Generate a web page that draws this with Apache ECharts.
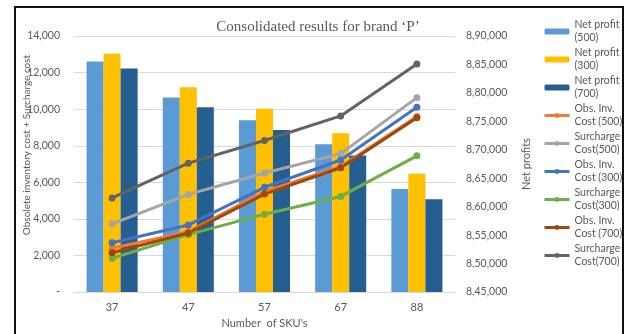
<!DOCTYPE html>
<html>
<head>
<meta charset="utf-8">
<script src="https://cdn.jsdelivr.net/npm/echarts@6/dist/echarts.min.js"></script>
<style>
  html, body { margin: 0; padding: 0; background: #fff; }
  #chart { width: 625px; height: 334px; }
  #frame { position: absolute; left: 14px; top: 6px; width: 606px; height: 340px; border: 2px solid #111; pointer-events: none; }
</style>
</head>
<body>
<div id="chart"></div>
<div id="frame"></div>
<script>
// Number of SKUs on the x axis
const skuCounts = ['37', '47', '57', '67', '88'];

// Net profit (right axis) per capacity scenario
const netProfit500 = [885500, 879200, 875200, 871000, 863100];
const netProfit300 = [886900, 881000, 877200, 872900, 865800];
const netProfit700 = [884300, 877500, 873500, 869000, 861300];

// Obsolete inventory and surcharge costs (left axis)
const obsInv500 = [2400, 3300, 5500, 6870, 9600];
const surcharge500 = [3730, 5340, 6510, 7570, 10630];
const obsInv300 = [2700, 3670, 5730, 7220, 10100];
const surcharge300 = [1850, 3140, 4260, 5230, 7450];
const obsInv700 = [2150, 3230, 5360, 6800, 9530];
const surcharge700 = [5150, 7050, 8290, 9630, 12470];

// Axis ranges
const costAxis = { min: 0, max: 14000, step: 2000 };
const profitAxis = { min: 845000, max: 890000, step: 5000 };

const FONT = 'Lato, "Noto Sans", sans-serif';
const GREY_TEXT = '#595959';

// Indian digit grouping, e.g. 890000 -> 8,90,000
function indianFormat(v) {
  const s = String(Math.round(v));
  if (s.length <= 3) return s;
  const last3 = s.slice(-3);
  let rest = s.slice(0, -3);
  const parts = [];
  while (rest.length > 2) { parts.unshift(rest.slice(-2)); rest = rest.slice(0, -2); }
  if (rest) parts.unshift(rest);
  return parts.join(',') + ',' + last3;
}

function barSeries(name, data, color) {
  return {
    name, type: 'bar', yAxisIndex: 1, data,
    barGap: '0%', barCategoryGap: '33%',
    itemStyle: { color }, z: 2
  };
}

function lineSeries(name, data, color) {
  return {
    name, type: 'line', yAxisIndex: 0, data,
    symbol: 'circle', symbolSize: 7,
    lineStyle: { color, width: 3 },
    itemStyle: { color },
    z: 3
  };
}

const legendNames = {
  'Net profit (500)': 'Net profit\n(500)',
  'Net profit (300)': 'Net profit\n(300)',
  'Net profit (700)': 'Net profit\n(700)',
  'Obs. Inv. Cost (500)': 'Obs. Inv.\nCost (500)',
  'Surcharge Cost(500)': 'Surcharge\nCost(500)',
  'Obs. Inv. Cost (300)': 'Obs. Inv.\nCost (300)',
  'Surcharge Cost(300)': 'Surcharge\nCost(300)',
  'Obs. Inv. Cost (700)': 'Obs. Inv.\nCost (700)',
  'Surcharge Cost(700)': 'Surcharge\nCost(700)'
};

const chart = echarts.init(document.getElementById('chart'), null, { renderer: 'canvas' });

chart.setOption({
  animation: false,
  backgroundColor: '#ffffff',
  textStyle: { fontFamily: FONT },
  title: {
    text: 'Consolidated results for brand \u2018P\u2019',
    left: 313, top: 15, textAlign: 'center',
    textStyle: { fontFamily: '"Liberation Serif", serif', fontSize: 15, fontWeight: 'normal', color: GREY_TEXT }
  },
  grid: { left: 74, right: 170, top: 36, bottom: 35, containLabel: false },
  legend: {
    orient: 'vertical', left: 538, top: 7,
    itemWidth: 25, itemHeight: 6, itemGap: -11,
    lineStyle: { width: 3 },
    formatter: n => legendNames[n] || n,
    textStyle: { fontFamily: FONT, fontSize: 10.5, lineHeight: 13, color: GREY_TEXT, padding: [13, 0, 0, 0] },
    data: [
      'Net profit (500)', 'Net profit (300)', 'Net profit (700)',
      'Obs. Inv. Cost (500)', 'Surcharge Cost(500)', 'Obs. Inv. Cost (300)',
      'Surcharge Cost(300)', 'Obs. Inv. Cost (700)', 'Surcharge Cost(700)'
    ]
  },
  xAxis: {
    type: 'category', data: skuCounts,
    name: "Number  of SKU's", nameLocation: 'middle', nameGap: 24,
    nameTextStyle: { fontFamily: FONT, fontSize: 11, color: GREY_TEXT },
    axisLine: { lineStyle: { color: '#d9d9d9' } },
    axisTick: { show: false },
    axisLabel: { fontFamily: FONT, fontSize: 11, color: GREY_TEXT, margin: 10 }
  },
  yAxis: [
    {
      type: 'value', min: costAxis.min, max: costAxis.max, interval: costAxis.step,
      axisLine: { show: false }, axisTick: { show: false },
      splitLine: { lineStyle: { color: '#d9d9d9' } },
      axisLabel: {
        fontFamily: FONT, fontSize: 10.5, color: GREY_TEXT, margin: 14,
        formatter: v => v === 0 ? '-' : v.toLocaleString('en-US')
      }
    },
    {
      type: 'value', position: 'right', min: profitAxis.min, max: profitAxis.max, interval: profitAxis.step,
      name: 'Net profits', nameLocation: 'middle', nameGap: 66, nameRotate: 90,
      nameTextStyle: { fontFamily: FONT, fontSize: 11, color: GREY_TEXT },
      axisLine: { show: false }, axisTick: { show: false },
      splitLine: { show: false },
      axisLabel: { fontFamily: FONT, fontSize: 10.5, color: GREY_TEXT, margin: 11, formatter: indianFormat }
    }
  ],
  graphic: [
    {
      type: 'text', x: 27, y: 145, rotation: Math.PI / 2,
      style: {
        text: 'Obsolete inventory cost + Surcharge cost',
        fontFamily: FONT, fontSize: 10, fill: GREY_TEXT,
        align: 'center', verticalAlign: 'middle'
      }
    }
  ],
  series: [
    barSeries('Net profit (500)', netProfit500, '#5B9BD5'),
    barSeries('Net profit (300)', netProfit300, '#FFC000'),
    barSeries('Net profit (700)', netProfit700, '#255E91'),
    lineSeries('Obs. Inv. Cost (500)', obsInv500, '#ED7D31'),
    lineSeries('Surcharge Cost(500)', surcharge500, '#A5A5A5'),
    lineSeries('Obs. Inv. Cost (300)', obsInv300, '#4472C4'),
    lineSeries('Surcharge Cost(300)', surcharge300, '#70AD47'),
    lineSeries('Obs. Inv. Cost (700)', obsInv700, '#9E480E'),
    lineSeries('Surcharge Cost(700)', surcharge700, '#636363')
  ]
});
</script>
</body>
</html>
